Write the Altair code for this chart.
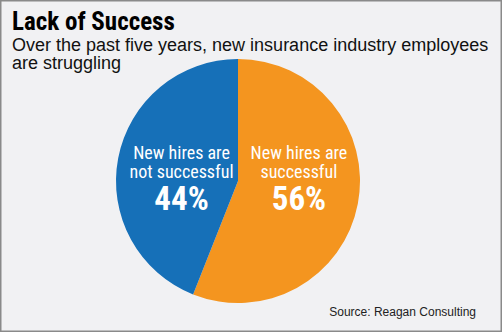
import math
import altair as alt
import pandas as pd

# ---- data ----
categories = ["New hires are successful", "New hires are not successful"]
labels = ["New hires are\nsuccessful", "New hires are\nnot successful"]
values = [56, 44]
pct_labels = ["56%", "44%"]
order = [0, 1]
colors = ["#F4951F", "#1670B8"]

title_text = "Lack of Success"
subtitle_lines = ["Over the past five years, new insurance industry employees",
                  "are struggling"]
source_text = "Source: Reagan Consulting"

df = pd.DataFrame({"category": categories, "label": labels, "value": values,
                   "pct": pct_labels, "order": order})

NARROW = "Noto Sans Condensed, Liberation Sans Narrow, Roboto Condensed, DejaVu Sans Condensed, sans-serif"
SANS = "Liberation Sans, Arial, Helvetica, sans-serif"

W, H = 476, 244
PAD = {"left": 0, "top": 59, "right": 502 - W, "bottom": 332 - 59 - H}

theta_scale = alt.Scale(domain=[0, 100], range=[0, 2 * math.pi])

base = (
    alt.Chart(df)
    .transform_window(cum="sum(value)", sort=[alt.SortField("order")], frame=[None, 0])
    .transform_calculate(start="datum.cum - datum.value", mid="datum.cum - datum.value / 2")
)

color_enc = alt.Color("category:N", scale=alt.Scale(domain=categories, range=colors), legend=None)

arcs = base.mark_arc(strokeWidth=0).encode(
    theta=alt.Theta("start:Q", scale=theta_scale),
    theta2="cum:Q",
    color=color_enc,
)


def label_layers(cat, radius, dy_lines, dy_pct):
    sub = base.transform_filter(alt.datum.category == cat)
    lines = sub.mark_text(
        radius=radius, dy=dy_lines, font=NARROW, fontSize=18, color="white",
        lineBreak="\n", lineHeight=19, align="center", baseline="middle",
    ).encode(theta=alt.Theta("mid:Q", scale=theta_scale), text="label:N")
    pct = sub.mark_text(
        radius=radius, dy=dy_pct, font=NARROW, fontSize=33, fontWeight="bold",
        color="white", align="center", baseline="middle",
    ).encode(theta=alt.Theta("mid:Q", scale=theta_scale), text="pct:N")
    return [lines, pct]


orange_txt = label_layers(categories[0], 62, -39, 7)
blue_txt = label_layers(categories[1], 57.5, -16.5, 30)

src_df = pd.DataFrame({"src": [source_text]})
source = alt.Chart(src_df).mark_text(
    font=SANS, fontSize=12, color="#222222", align="right", baseline="alphabetic"
).encode(text="src:N", x=alt.value(W), y=alt.value(257))

border = alt.Chart(src_df).mark_rect(
    fill=None, stroke="#8a8a8a", strokeWidth=1.5
).encode(
    x=alt.value(0.75), x2=alt.value(502 - 0.75),
    y=alt.value(-PAD["top"] + 0.75), y2=alt.value(332 - PAD["top"] - 0.75),
)

chart = (
    alt.layer(arcs, *orange_txt, *blue_txt, source, border)
    .properties(
        width=W, height=H, padding=PAD, autosize="none",
        background="#F1F1F3",
        title=alt.TitleParams(
            text=title_text, subtitle=subtitle_lines, anchor="start", dx=12,
            font=NARROW, fontSize=25, fontWeight="bold", color="#000000",
            subtitleFont=SANS, subtitleFontSize=18, subtitleColor="#111111",
            subtitleLineHeight=18, subtitlePadding=2, offset=-73,
        ),
    )
    .configure_view(stroke=None)
)

chart.save("out.html", embed_options={"renderer": "svg", "actions": False})
